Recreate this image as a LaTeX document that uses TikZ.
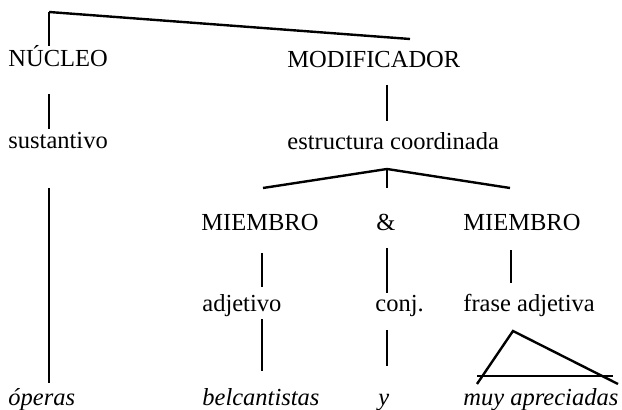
\documentclass[tikz,border=0pt]{standalone}
\usepackage{fontspec}
\setmainfont{Liberation Serif}
\usetikzlibrary{
  chains,
  scopes
}

\begin{document}
\begin{tikzpicture}[
      x=0.5pt,y=-0.5pt,
      cat/.style={
         anchor=base west,
         inner sep=0pt,
         font=\fontsize{12.25}{14}\selectfont
      },
      word/.style={
         cat,
         font=\fontsize{12.25}{14}\selectfont\itshape
      },
      point/.style={coordinate},
      every join/.style={line width=1.2pt},
    ]
    \useasboundingbox (0,0) rectangle (622,410);
    % labels
    \node (n11) [cat] at (8,67) {NÚCLEO};
    \node (n12) [cat] at (287,67.5) {MODIFICADOR};
    \node (n21) [cat] at (8,148.5) {sustantivo};
    \node (n22) [cat] at (287,150) {estructura coordinada};
    \node (n31) [cat] at (201,231) {MIEMBRO};
    \node (n32) [cat] at (376,231) {\&};
    \node (n33) [cat] at (463,231) {MIEMBRO};
    \node (n41) [cat] at (202,312) {adjetivo};
    \node (n42) [cat] at (375,312) {conj.};
    \node (n43) [cat] at (463,312) {frase adjetiva};
    \node (n51) [word] at (8,405.5) {óperas};
    \node (n52) [word] at (202,405.5) {belcantistas};
    \node (n53) [word] at (378,405.5) {y};
    \node (n54) [word] at (463,405.5) {muy apreciadas};
    % branch points
    \node (c01) [point] at (49,12) {};
    \node (c02) [point] at (49,46) {};
    \node (c03) [point] at (410,39) {};
    \node (c04) [point] at (49,94) {};
    \node (c05) [point] at (49,129) {};
    \node (c06) [point] at (387,85) {};
    \node (c07) [point] at (387,121) {};
    \node (c08) [point] at (49,188) {};
    \node (c09) [point] at (49,383) {};
    \node (c10) [point] at (387,169) {};
    \node (c11) [point] at (263,188) {};
    \node (c12) [point] at (510,188) {};
    \node (c13) [point] at (387,188) {};
    \node (c14) [point] at (262,253) {};
    \node (c15) [point] at (262,287) {};
    \node (c16) [point] at (387,248) {};
    \node (c17) [point] at (387,293) {};
    \node (c18) [point] at (511,250) {};
    \node (c19) [point] at (511,283) {};
    \node (c20) [point] at (262,319) {};
    \node (c21) [point] at (262,371) {};
    \node (c22) [point] at (387,330) {};
    \node (c23) [point] at (387,366) {};
    \node (c24) [point] at (513,331) {};
    \node (c25) [point] at (477,384) {};
    \node (c26) [point] at (618,384) {};
    \node (c27) [point] at (477,376) {};
    \node (c28) [point] at (613,376) {};
  { [start chain]
       \chainin (c02);
       \chainin (c01)    [join];
       \chainin (c03)    [join];
  }
  { [start chain]
       \chainin (c04);
       \chainin (c05)    [join];
  }
  { [start chain]
       \chainin (c06);
       \chainin (c07)    [join];
  }
  { [start chain]
       \chainin (c08);
       \chainin (c09)    [join];
  }
  { [start chain]
       \chainin (c11);
       \chainin (c10)    [join];
       \chainin (c12)    [join];
  }
  { [start chain]
       \chainin (c10);
       \chainin (c13)    [join];
  }
  { [start chain]
       \chainin (c14);
       \chainin (c15)    [join];
  }
  { [start chain]
       \chainin (c16);
       \chainin (c17)    [join];
  }
  { [start chain]
       \chainin (c18);
       \chainin (c19)    [join];
  }
  { [start chain]
       \chainin (c20);
       \chainin (c21)    [join];
  }
  { [start chain]
       \chainin (c22);
       \chainin (c23)    [join];
  }
  % triangle over the phrase
  \draw [line width=1.2pt, line join=miter] (c25) -- (c24) -- (c26);
  \draw [line width=1.2pt] (c27) -- (c28);
\end{tikzpicture}
\end{document}
